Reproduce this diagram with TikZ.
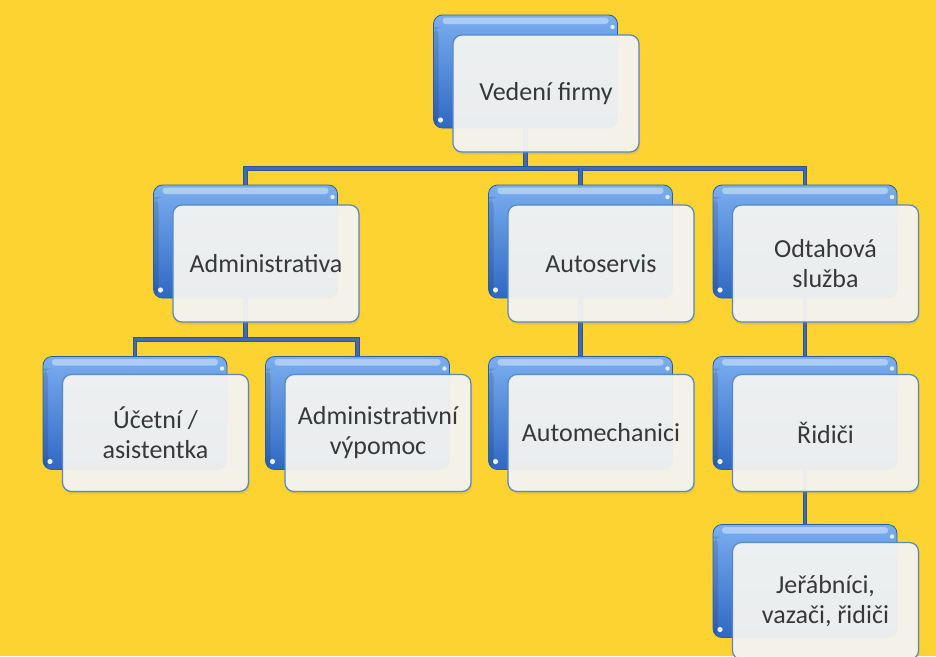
\documentclass[tikz,border=0pt]{standalone}
\usepackage{fontspec}
\setmainfont{Carlito}
\usetikzlibrary{calc,shadows}
\definecolor{bgyellow}{HTML}{FCD330}
\definecolor{bluetop}{HTML}{7AAEF0}
\definecolor{bluebot}{HTML}{2F68C2}
\definecolor{boxedge}{HTML}{2C5CA8}
\definecolor{frontedge}{HTML}{5587C8}
\definecolor{frontfill}{HTML}{F4F4F2}
\definecolor{txt}{HTML}{383838}
\definecolor{lineout}{HTML}{2E5598}
\definecolor{linein}{HTML}{3F6BB0}
\pgfdeclarelayer{bglayer}
\pgfdeclarelayer{linelayer}
\pgfsetlayers{bglayer,linelayer,main}
\begin{document}
\begin{tikzpicture}[x=1pt,y=-1pt,
  backbox/.style={rectangle, rounded corners=9pt, minimum width=184pt, minimum height=113pt,
    draw=boxedge, line width=0.8pt, top color=bluetop, bottom color=bluebot, inner sep=0pt,
    path picture={
      \fill[white,opacity=0.4,rounded corners=3pt]
        ([xshift=9pt,yshift=-2.5pt]path picture bounding box.north west) rectangle
        ([xshift=-9pt,yshift=-9pt]path picture bounding box.north east);
      \fill[black,opacity=0.12]
        ([xshift=0pt,yshift=-12pt]path picture bounding box.north west) rectangle
        ([xshift=5pt,yshift=0pt]path picture bounding box.south west);
      \fill[white,opacity=0.9] ([xshift=7pt,yshift=8pt]path picture bounding box.south west) circle (2.6pt);
      \fill[white,opacity=0.8] ([xshift=-5pt,yshift=-12pt]path picture bounding box.north east) circle (2.2pt);
    }},
  frontbox/.style={rectangle, rounded corners=9pt, minimum width=186pt, minimum height=117pt,
    draw=frontedge, line width=1.2pt, fill=frontfill, fill opacity=0.95, text opacity=1,
    text=txt, font=\fontsize{26}{30}\selectfont, align=center, inner sep=0pt,
    drop shadow={opacity=0.18, shadow xshift=1pt, shadow yshift=-2.5pt}},
  conn/.style={draw=lineout, line width=1pt, double=linein, double distance=2.8pt}]

\begin{pgfonlayer}{bglayer}
  \fill[bgyellow] (0,0) rectangle (936,656);
\end{pgfonlayer}
\useasboundingbox (0,0) rectangle (936,656);

% back boxes
\node[backbox] (vedb) at (525.5,71.5) {};
\node[backbox] (admb) at (245.5,241.5) {};
\node[backbox] (autb) at (580.5,241.5) {};
\node[backbox] (odtb) at (805,241.5) {};
\node[backbox] (uceb) at (135,413) {};
\node[backbox] (vypb) at (357.5,413) {};
\node[backbox] (mecb) at (580.5,413) {};
\node[backbox] (ridb) at (805,413) {};
\node[backbox] (jerb) at (805,581) {};

% front boxes with text
\node[frontbox] (ved) at ($(vedb)+(20.5,22)$) {Vedení firmy};
\node[frontbox] (adm) at ($(admb)+(20.5,22)$) {Administrativa};
\node[frontbox] (aut) at ($(autb)+(20.5,22)$) {Autoservis};
\node[frontbox] (odt) at ($(odtb)+(20.5,22)$) {Odtahová\\služba};
\node[frontbox] (uce) at ($(uceb)+(20.5,20)$) {Účetní /\\asistentka};
\node[frontbox] (vyp) at ($(vypb)+(20.5,20)$) {Administrativní\\výpomoc};
\node[frontbox] (mec) at ($(mecb)+(20.5,20)$) {Automechanici};
\node[frontbox] (rid) at ($(ridb)+(20.5,20)$) {Řidiči};
\node[frontbox] (jer) at ($(jerb)+(20.5,20)$) {Jeřábníci,\\vazači, řidiči};

\coordinate (bar1) at ($(vedb.south)+(0,40)$);
\coordinate (bar2) at ($(admb.south)+(0,41)$);

\begin{pgfonlayer}{linelayer}
  \draw[conn] (vedb.south) -- (bar1);
  \draw[conn] (admb.north) |- (bar1) -| (odtb.north);
  \draw[conn] (autb.north) -- (autb.north |- bar1);
  \draw[conn] (admb.south) -- (bar2);
  \draw[conn] (uceb.north) |- (bar2) -| (vypb.north);
  \draw[conn] (autb.south) -- (mecb.north);
  \draw[conn] (odtb.south) -- (ridb.north);
  \draw[conn] (ridb.south) -- (jerb.north);
\end{pgfonlayer}
\end{tikzpicture}
\end{document}
